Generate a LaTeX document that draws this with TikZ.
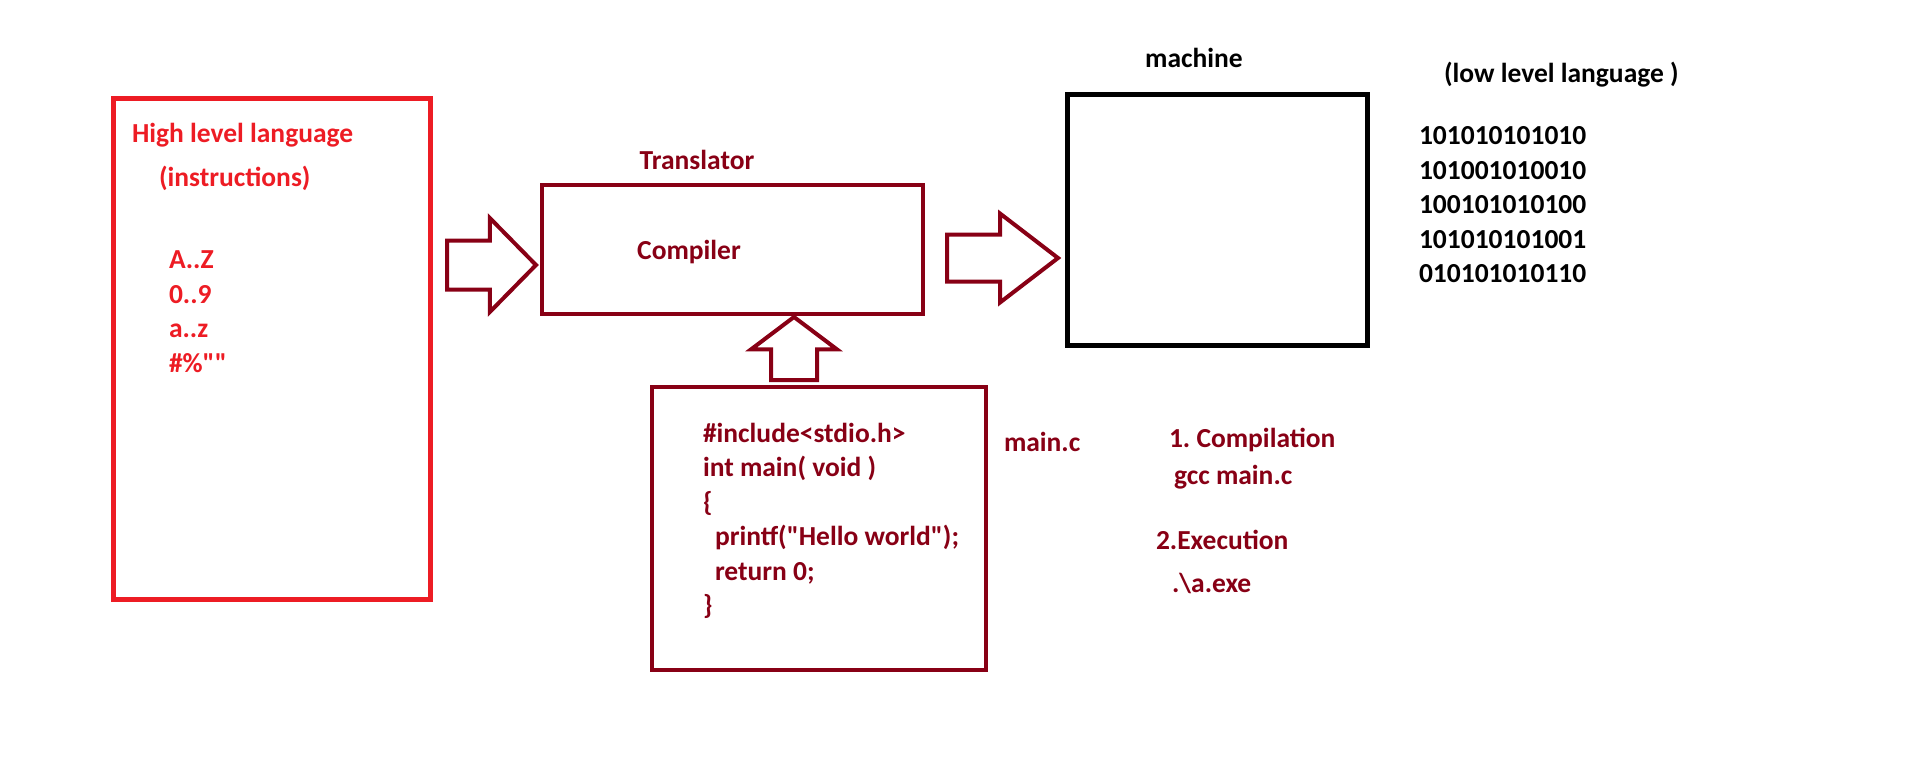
\documentclass[tikz,border=0pt]{standalone}
\usepackage{fontspec}
\setmainfont{Carlito}[Ligatures=TeXOff]
\usepackage{tikz}
\usetikzlibrary{shapes.arrows, positioning}
\definecolor{hlred}{HTML}{ED1C24}
\definecolor{trred}{HTML}{880015}
\definecolor{mcblack}{HTML}{000000}
\frenchspacing

\begin{document}
\begin{tikzpicture}[x=1pt, y=-1pt,
    every node/.style={font=\fontsize{27.5}{34.5}\selectfont\bfseries, inner sep=0pt, outer sep=0pt},
    box/.style={rectangle, draw=#1, line width=4.5pt},
    txt/.style={text=#1, anchor=base west},
    lines/.style={text=#1, anchor=north west, align=left},
    blockarrow/.style={single arrow, draw=trred, line width=4pt, text height=#1, text depth=0pt, text width=0pt}
]
\useasboundingbox (0,0) rectangle (1910,772);

% boxes
\node[box=hlred, line width=5pt, minimum width=317pt, minimum height=501pt] (high) at (271.5,348.5) {};
\node[box=trred, line width=4pt, minimum width=381pt, minimum height=129pt] (trans) at (732.5,249.5) {};
\node[box=trred, minimum width=334pt, minimum height=283pt] (code) at (819,528.5) {};
\node[box=mcblack, line width=5pt, minimum width=300pt, minimum height=251pt] (mach) at (1217,219.5) {};

% block arrows
\node[blockarrow=45pt, minimum height=89pt, single arrow head extend=22.5pt, single arrow tip angle=91, anchor=tip] (inarr) at (536,265) {};
\node[blockarrow=43pt, minimum height=111pt, single arrow head extend=21pt, single arrow tip angle=75, anchor=tip] (outarr) at (1058,258) {};
\node[blockarrow=0pt, text width=42pt, minimum height=63pt, single arrow head extend=20pt, single arrow tip angle=106, shape border rotate=90, anchor=tip] (uparr) at (794,317) {};

% high level side
\node[txt=hlred] (hlltitle) at (132,142) {High level language};
\node[txt=hlred] (hllsub) at (159,186) {(instructions)};
\node[lines=hlred] (hllchars) at (169,251) {A..Z\\0..9\\a..z\\\#\%""};

% translator
\node[text=trred, anchor=base] (translbl) at (697,169) {Translator};
\node[text=trred, anchor=base] (complbl) at (689,259) {Compiler};

% source file
\node[lines=trred] (codetxt) at (703,423) {\#include<stdio.h>\\int main( void )\\\{\\\hspace*{12pt}printf("Hello world");\\\hspace*{12pt}return 0;\\\}};
\node[txt=trred] (filelbl) at (1004,451) {main.c};

% machine side
\node[text=mcblack, anchor=base] (machlbl) at (1194,67) {machine};
\node[txt=mcblack] (lowlbl) at (1444,82) {(low level language )};
\node[lines=mcblack] (bintxt) at (1419,126.5) {101010101010\\101001010010\\100101010100\\101010101001\\010101010110};

% steps
\node[txt=trred] (step1) at (1169,447) {1. Compilation};
\node[txt=trred] (step1cmd) at (1174,484) {gcc main.c};
\node[txt=trred] (step2) at (1156,549) {2.Execution};
\node[txt=trred] (step2cmd) at (1172,592) {.\textbackslash a.exe};

\end{tikzpicture}
\end{document}
